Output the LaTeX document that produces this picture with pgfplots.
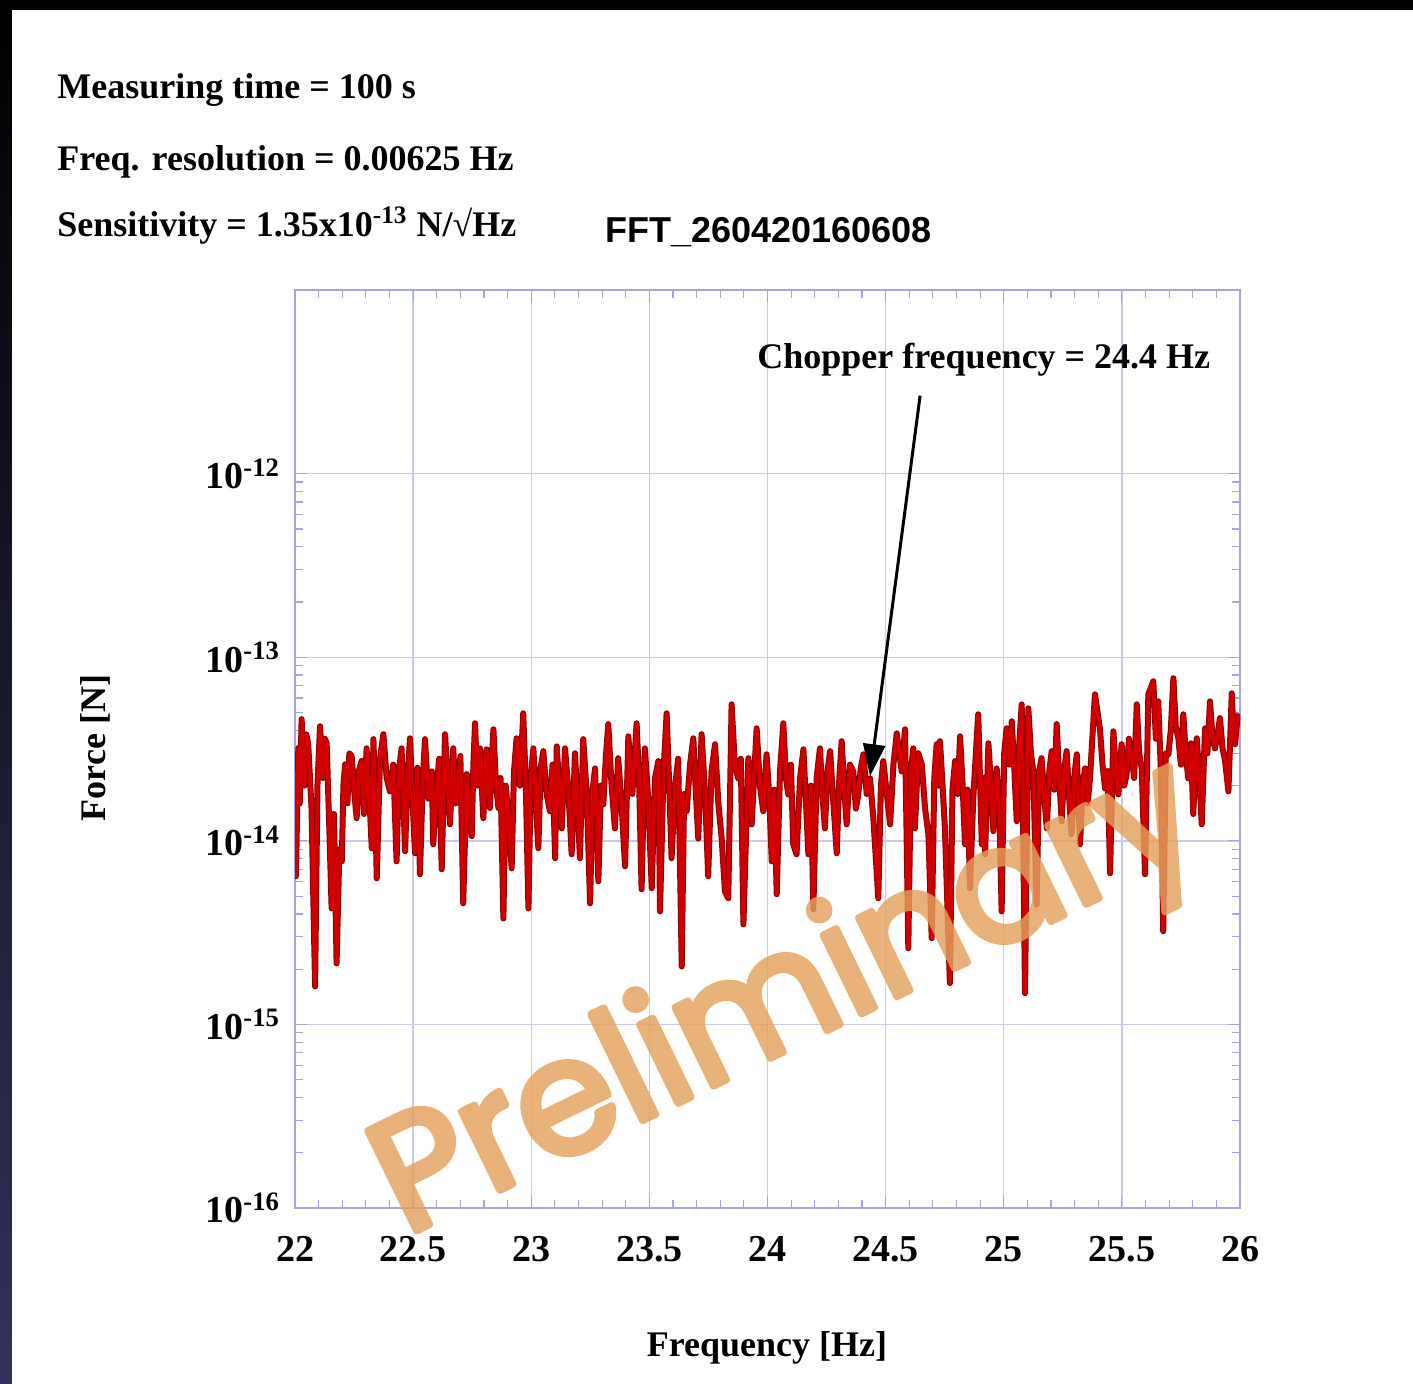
\documentclass[border=0pt]{standalone}
\usepackage{pgfplots}
\pgfplotsset{compat=1.18}
\usepackage{fontspec}
\setmainfont{Liberation Serif}
\newfontfamily\arialfont{Liberation Sans}
\newfontfamily\wmfont{Poppins}
\usetikzlibrary{arrows.meta}

\definecolor{trace}{RGB}{208,0,0}
\definecolor{tracedark}{RGB}{140,0,0}
\definecolor{gridc}{RGB}{200,200,240}
\definecolor{axc}{RGB}{165,165,222}
\definecolor{wm}{RGB}{226,160,92}
\definecolor{frameblue}{RGB}{50,50,92}

\begin{document}
\begin{tikzpicture}
\useasboundingbox (0,0) rectangle (706.5pt,-691.5pt);
\fill[black] (0,0) rectangle (706.5pt,-691.5pt);
\shade[top color=black, bottom color=frameblue] (0,-5pt) rectangle (6pt,-691.5pt);
\fill[white] (6pt,-5pt) rectangle (706.5pt,-691.5pt);

% header texts
\begin{scope}[every node/.style={anchor=base west, inner sep=0pt, font=\bfseries\fontsize{18}{20}\selectfont}]
\node at (28.5pt,-49pt) {Measuring time = 100 s};
\node at (28.5pt,-85pt) {Freq. resolution = 0.00625 Hz};
\node at (28.5pt,-118pt) {Sensitivity = 1.35x10\textsuperscript{-13} N/√Hz};
\end{scope}
\node[anchor=base west, inner sep=0pt, font=\arialfont\bfseries\fontsize{18}{20}\selectfont] at (302.5pt,-121pt) {FFT\_260420160608};

\begin{axis}[
  at={(147.5pt,-604pt)}, anchor=south west,
  width=472.5pt, height=459pt, scale only axis,
  xmin=22, xmax=26,
  ymode=log, ymin=1e-16, ymax=1e-11,
  xtick={22,22.5,...,26},
  xticklabels={22,22.5,23,23.5,24,24.5,25,25.5,26},
  minor x tick num=4,
  ytick={1e-16,1e-15,1e-14,1e-13,1e-12},
  yticklabels={10\textsuperscript{-16},10\textsuperscript{-15},10\textsuperscript{-14},10\textsuperscript{-13},10\textsuperscript{-12}},
  grid=major,
  major grid style={gridc, line width=0.7pt},
  axis line style={axc, line width=0.8pt},
  every tick/.style={axc, line width=0.6pt},
  tick align=inside,
  major tick length=6pt, minor tick length=4pt,
  tick label style={font=\bfseries\fontsize{19}{20}\selectfont, black},
  xticklabel style={yshift=-10.5pt},
  yticklabel style={xshift=-4pt},
]
\pgfplotstableread{
f F
22.000 2.39e-14
22.004 6.42e-15
22.014 3.2e-14
22.020 1.6e-14
22.028 4.60e-14
22.040 2.0e-14
22.048 3.8e-14
22.056 3.36e-14
22.070 1.5e-14
22.085 1.61e-15
22.095 2.0e-14
22.106 4.21e-14
22.118 2.2e-14
22.126 3.6e-14
22.134 3.40e-14
22.145 1.2e-14
22.155 4.29e-15
22.165 1.4e-14
22.176 2.15e-15
22.188 9e-15
22.198 7.74e-15
22.205 2.0e-14
22.212 2.61e-14
22.222 1.6e-14
22.230 3.0e-14
22.240 2.89e-14
22.250 1.9e-14
22.261 1.33e-14
22.270 2.4e-14
22.282 2.72e-14
22.292 1.4e-14
22.303 3.19e-14
22.314 1.8e-14
22.325 9.12e-15
22.332 3.58e-14
22.340 1.5e-14
22.346 6.25e-15
22.360 2.8e-14
22.374 3.81e-14
22.388 2.2e-14
22.402 1.86e-14
22.416 2.6e-14
22.430 7.74e-15
22.440 2.4e-14
22.451 3.19e-14
22.466 8.78e-15
22.476 2.2e-14
22.487 3.62e-14
22.498 1.6e-14
22.508 8.56e-15
22.518 2.5e-14
22.529 6.58e-15
22.540 2.0e-14
22.550 3.58e-14
22.565 1.7e-14
22.579 2.39e-14
22.585 9.58e-15
22.600 1.93e-14
22.610 2.8e-14
22.621 7.00e-15
22.635 3.81e-14
22.646 2.2e-14
22.656 1.23e-14
22.670 3.19e-14
22.680 1.6e-14
22.691 1.93e-14
22.700 2.9e-14
22.712 4.57e-15
22.727 2.31e-14
22.738 1.5e-14
22.748 1.06e-14
22.755 2.6e-14
22.762 4.37e-14
22.772 2.0e-14
22.783 3.19e-14
22.797 1.33e-14
22.811 3.15e-14
22.825 1.51e-14
22.832 2.6e-14
22.840 4.05e-14
22.850 2.1e-14
22.861 1.51e-14
22.870 2.2e-14
22.882 3.78e-15
22.892 2.0e-14
22.903 1.40e-14
22.917 7.09e-15
22.927 2.4e-14
22.938 3.62e-14
22.952 2.0e-14
22.966 4.95e-14
22.977 2.0e-14
22.988 4.29e-15
22.998 2.2e-14
23.009 3.19e-14
23.020 1.6e-14
23.030 9.12e-15
23.040 2.5e-14
23.051 3.08e-14
23.065 1.8e-14
23.079 1.45e-14
23.090 2.6e-14
23.101 8.04e-15
23.108 3.27e-14
23.118 2.0e-14
23.129 1.17e-14
23.143 3.19e-14
23.157 1.9e-14
23.171 8.45e-15
23.185 3.00e-14
23.195 1.7e-14
23.206 8.04e-15
23.220 3.58e-14
23.235 1.8e-14
23.249 4.57e-15
23.260 1.9e-14
23.270 2.48e-14
23.284 6.02e-15
23.295 2.0e-14
23.305 1.58e-14
23.316 2.9e-14
23.326 4.32e-14
23.340 2.0e-14
23.354 1.17e-14
23.368 2.82e-14
23.382 1.6e-14
23.397 7.27e-15
23.411 3.71e-14
23.428 1.8e-14
23.446 4.37e-14
23.457 2.0e-14
23.467 5.45e-15
23.481 3.19e-14
23.495 1.7e-14
23.510 5.52e-15
23.524 2.2e-14
23.538 2.72e-14
23.545 4.13e-15
23.560 2.4e-14
23.573 4.95e-14
23.584 2.0e-14
23.594 8.04e-15
23.608 1.93e-14
23.622 2.8e-14
23.637 2.07e-15
23.647 1.8e-14
23.658 1.45e-14
23.672 2.6e-14
23.686 3.62e-14
23.697 1.8e-14
23.707 1.03e-14
23.721 3.81e-14
23.735 1.9e-14
23.749 6.42e-15
23.763 2.4e-14
23.778 3.36e-14
23.792 1.6e-14
23.806 1.03e-14
23.820 5.31e-15
23.834 4.87e-15
23.848 5.54e-14
23.862 2.6e-14
23.876 2.19e-14
23.887 2.8e-14
23.898 3.51e-15
23.919 2.82e-14
23.933 1.23e-14
23.954 4.10e-14
23.968 2.0e-14
23.982 1.45e-14
23.996 2.96e-14
24.007 1.8e-14
24.018 7.74e-15
24.028 1.9e-14
24.039 5.12e-15
24.053 2.4e-14
24.067 4.37e-14
24.078 2.2e-14
24.088 1.79e-14
24.099 2.6e-14
24.109 9.58e-15
24.123 8.45e-15
24.138 2.2e-14
24.152 3.15e-14
24.162 1.7e-14
24.173 8.45e-15
24.184 2.0e-14
24.194 4.24e-15
24.208 2.2e-14
24.222 3.19e-14
24.232 1.8e-14
24.243 1.17e-14
24.254 2.4e-14
24.265 3.08e-14
24.279 1.6e-14
24.293 8.56e-15
24.304 2.2e-14
24.314 3.49e-14
24.325 1.9e-14
24.335 1.23e-14
24.349 2.6e-14
24.363 2.39e-14
24.374 1.5e-14
24.384 1.79e-14
24.395 2.5e-14
24.406 2.96e-14
24.420 1.8e-14
24.434 2.19e-14
24.448 1.33e-14
24.469 4.87e-15
24.480 2.0e-14
24.490 2.72e-14
24.505 1.8e-14
24.519 1.23e-14
24.533 2.6e-14
24.547 3.85e-14
24.568 2.39e-14
24.582 4.05e-14
24.596 2.60e-15
24.607 2.4e-14
24.617 3.19e-14
24.624 1.17e-14
24.638 3.0e-14
24.653 2.61e-14
24.667 1.5e-14
24.681 1.09e-14
24.695 2.95e-15
24.706 2.2e-14
24.716 3.36e-14
24.723 2.0e-14
24.730 3.49e-14
24.741 2.0e-14
24.751 1.17e-14
24.772 1.68e-15
24.783 1.9e-14
24.794 2.72e-14
24.805 1.8e-14
24.815 3.71e-14
24.826 2.0e-14
24.836 9.58e-15
24.847 1.9e-14
24.857 5.52e-15
24.871 1.71e-14
24.882 3.0e-14
24.892 4.89e-14
24.907 9.58e-15
24.914 2.2e-14
24.921 8.45e-15
24.935 3.40e-14
24.946 2.0e-14
24.956 1.13e-14
24.970 2.48e-14
24.981 1.6e-14
24.991 4.13e-15
25.002 3.0e-14
25.012 4.10e-14
25.023 2.6e-14
25.034 4.48e-14
25.045 2.4e-14
25.055 1.28e-14
25.066 3.4e-14
25.076 5.54e-14
25.090 1.48e-15
25.104 5.27e-14
25.115 3.0e-14
25.125 2.39e-14
25.139 4.51e-15
25.150 2.4e-14
25.160 2.82e-14
25.171 1.8e-14
25.182 1.17e-14
25.193 2.4e-14
25.203 3.08e-14
25.214 1.9e-14
25.224 4.32e-14
25.235 2.2e-14
25.245 1.28e-14
25.256 2.4e-14
25.266 3.08e-14
25.277 1.7e-14
25.287 1.09e-14
25.298 2.2e-14
25.309 2.96e-14
25.323 9.58e-15
25.334 2.0e-14
25.344 2.48e-14
25.355 1.6e-14
25.365 2.19e-14
25.386 6.28e-14
25.407 4.10e-14
25.418 2.6e-14
25.429 1.93e-14
25.440 2.4e-14
25.450 6.66e-15
25.464 3.95e-14
25.475 2.4e-14
25.485 1.79e-14
25.499 3.36e-14
25.510 2.0e-14
25.520 2.31e-14
25.530 3.6e-14
25.541 2.96e-14
25.552 2.2e-14
25.563 5.54e-14
25.573 3.0e-14
25.584 2.48e-14
25.598 6.58e-15
25.612 6.28e-14
25.633 7.40e-14
25.644 3.6e-14
25.654 5.75e-14
25.665 2.4e-14
25.675 3.22e-15
25.686 3.0e-14
25.697 2.96e-14
25.707 4.0e-14
25.718 7.69e-14
25.728 4.2e-14
25.739 3.62e-14
25.750 2.6e-14
25.760 4.89e-14
25.770 3.0e-14
25.781 2.19e-14
25.792 3.4e-14
25.802 1.40e-14
25.817 3.62e-14
25.828 2.2e-14
25.838 1.23e-14
25.852 4.10e-14
25.862 3.0e-14
25.873 5.75e-14
25.884 3.6e-14
25.894 3.19e-14
25.905 3.8e-14
25.915 4.66e-14
25.926 3.2e-14
25.937 2.72e-14
25.951 1.86e-14
25.965 6.36e-14
25.972 4.0e-14
25.979 3.36e-14
25.990 4.8e-14
26.000 4.60e-14
}\fft
\addplot[tracedark, line width=3pt, line join=round] table[x=f, y=F] {\fft};
\addplot[trace, line width=2pt, line join=round] table[x=f, y=F] {\fft};
\draw[black, line width=1.5pt, -{Triangle[length=16pt,width=11pt]}] (axis cs:24.646,2.66e-12) -- (axis cs:24.434,2.25e-14);
\end{axis}

\node[anchor=base west, inner sep=0pt, font=\bfseries\fontsize{18}{20}\selectfont] at (378.5pt,-184pt) {Chopper frequency = 24.4 Hz};
\node[rotate=90, font=\bfseries\fontsize{18}{20}\selectfont] at (47.5pt,-374pt) {Force [N]};
\node[font=\bfseries\fontsize{18}{20}\selectfont] at (383.5pt,-674pt) {Frequency [Hz]};

% watermark: glyphs filled and stroked with round joins
\begin{scope}[transparency group, opacity=0.82]
\node[rotate=26, font=\wmfont\fontsize{80}{80}\selectfont, text=wm] at (395pt,-502pt)
  {\special{pdf:literal direct 2 Tr 3.5 w 1 J 1 j}Preliminary\special{pdf:literal direct 0 Tr}};
\end{scope}
\end{tikzpicture}
\end{document}
